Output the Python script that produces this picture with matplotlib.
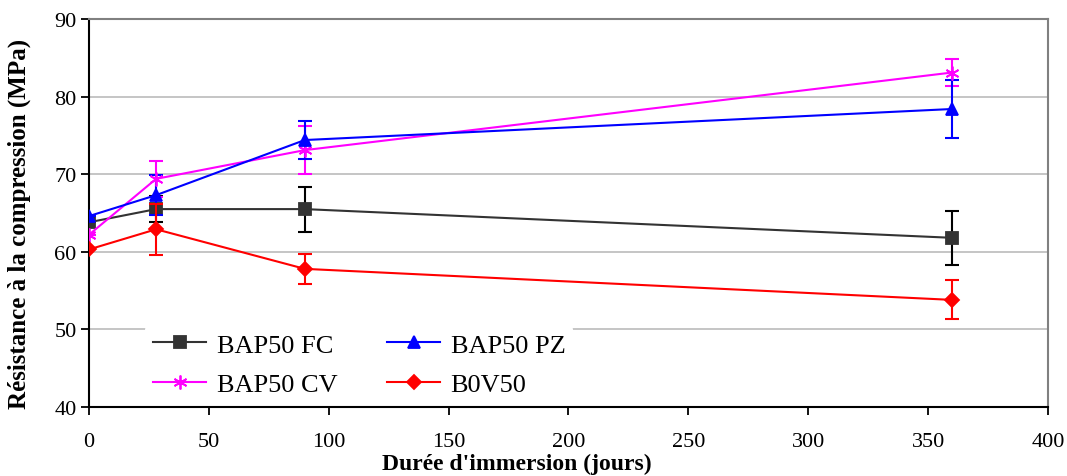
#!/usr/bin/env python3
# -*- coding: utf-8 -*-

import matplotlib
matplotlib.use("Agg")
import matplotlib.pyplot as plt

# durée d'immersion (jours)
jours = [0, 28, 90, 360]

# résistance moyenne (MPa) et écarts-types
bap50_fc = [63.8, 65.5, 65.5, 61.8]
bap50_fc_err = [0.0, 1.7, 2.9, 3.5]
bap50_pz = [64.6, 67.3, 74.4, 78.4]
bap50_pz_err = [0.0, 2.6, 2.4, 3.7]
bap50_cv = [62.2, 69.4, 73.1, 83.1]
bap50_cv_err = [0.0, 2.3, 3.1, 1.8]
b0v50 = [60.3, 62.9, 57.8, 53.8]
b0v50_err = [0.0, 3.3, 1.9, 2.5]

xticks = [0, 50, 100, 150, 200, 250, 300, 350, 400]
yticks = [40, 50, 60, 70, 80, 90]

plt.rcParams['font.family'] = ['Liberation Serif', 'DejaVu Serif']

fig = plt.figure(figsize=(10.67, 4.77), dpi=100)
ax = fig.add_axes([0.0834, 0.1447, 0.8988, 0.8134])

for y in yticks[1:-1]:
    ax.axhline(y, color='#c0c0c0', linewidth=1.3, zorder=0)

series = [
    (bap50_fc, bap50_fc_err, '#333333', 'black', 's', 8, "BAP50 FC"),
    (bap50_cv, bap50_cv_err, '#ff00ff', '#ff00ff', (6, 2, 0), 10, "BAP50 CV"),
    (bap50_pz, bap50_pz_err, '#0000ff', '#0000ff', '^', 9, "BAP50 PZ"),
    (b0v50, b0v50_err, '#ff0000', '#ff0000', 'D', 7, "B0V50"),
]
draw_order = [0, 2, 1, 3]
handles = [None] * 4
for i in draw_order:
    vals, err, col, ecol, mk, ms, lab = series[i]
    ax.errorbar(jours, vals, yerr=err, fmt='none', ecolor=ecol, elinewidth=1.5,
                capsize=4.8, capthick=1.5, zorder=2 + i)
    line, = ax.plot(jours, vals, color=col, linewidth=1.5, marker=mk, markersize=ms,
                    markerfacecolor=col, markeredgecolor=col, markeredgewidth=1.3,
                    label=lab, zorder=3 + i)
    handles[i] = line

ax.set_xlim(0, 400)
ax.set_ylim(40, 90)
ax.set_xticks(xticks)
ax.set_yticks(yticks)
ax.tick_params(axis='y', direction='out', length=6, width=1.3, labelsize=16, pad=3)
ax.tick_params(axis='x', direction='out', length=6, width=1.3, labelsize=16, pad=12)

for s in ['left', 'bottom']:
    ax.spines[s].set_color('black')
    ax.spines[s].set_linewidth(1.5)
for s in ['top', 'right']:
    ax.spines[s].set_color('#808080')
    ax.spines[s].set_linewidth(1.5)

ax.set_xlabel("Durée d'immersion (jours)", fontsize=17, fontweight='bold')
ax.xaxis.set_label_coords(0.446, -0.118)
ax.set_ylabel("Résistance à la compression (MPa)", fontsize=18, fontweight='bold')
ax.yaxis.set_label_coords(-0.06, 0.475)

leg = ax.legend(handles=handles, ncol=2, loc='upper left', bbox_to_anchor=(0.045, 0.245),
                frameon=True, fontsize=19, handlelength=2.0, columnspacing=1.9,
                handletextpad=0.4, labelspacing=0.6, borderpad=0.3)
leg.get_frame().set_facecolor('white')
leg.get_frame().set_edgecolor('none')
leg.get_frame().set_alpha(1)

plt.savefig("out.png", dpi=100)
plt.close()
